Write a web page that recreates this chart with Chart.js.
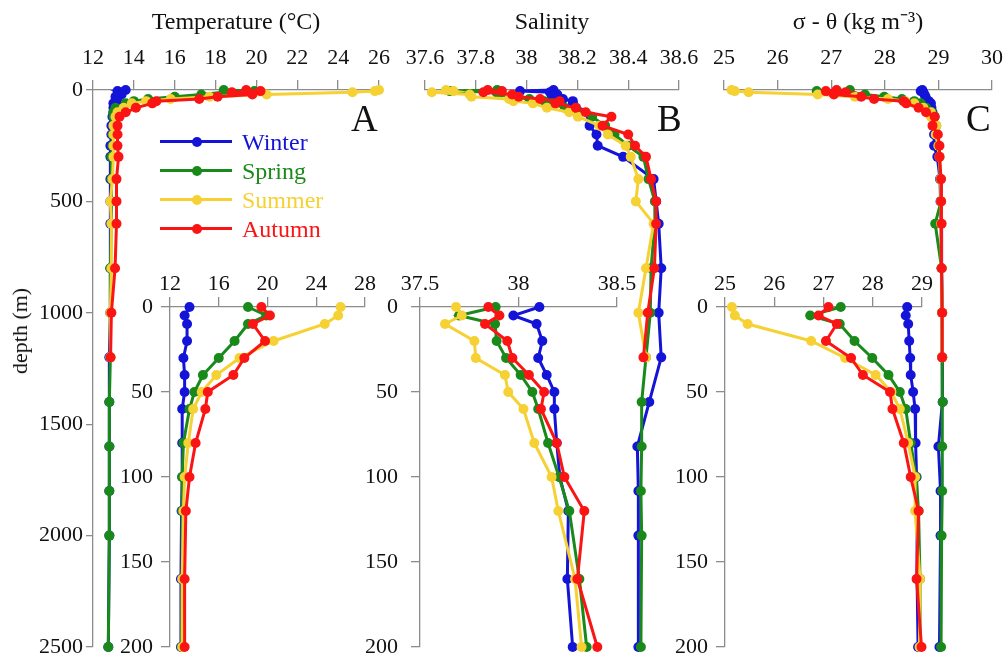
<!DOCTYPE html>
<html>
<head>
<meta charset="utf-8">
<script src="https://cdn.jsdelivr.net/npm/chart.js@4.4.0/dist/chart.umd.min.js"></script>
<style>
  body { margin: 0; background: #fff; }
  #wrap { position: relative; width: 1008px; height: 661px; overflow: hidden; font-family: "Liberation Serif", "Times New Roman", serif; color: #111; }
  #wrap canvas { position: absolute; left: 0; top: 0; }
  .tag { position: absolute; font-size: 37px; line-height: 37px; }
  .ylab { position: absolute; left: 20px; top: 331px; font-size: 22px; white-space: nowrap; transform: translate(-50%, -50%) rotate(-90deg); }
  .leg { position: absolute; left: 160px; height: 24px; }
  .leg .ln { position: absolute; left: 0; top: 10px; width: 72px; height: 3px; }
  .leg .dot { position: absolute; left: 32px; top: 6.5px; width: 10px; height: 10px; border-radius: 50%; }
  .leg span { position: absolute; left: 82px; top: 0; font-size: 24px; line-height: 24px; white-space: nowrap; }
</style>
</head>
<body>
<div id="wrap">
  <canvas id="mainA" width="1008" height="661"></canvas>
  <canvas id="mainB" width="1008" height="661"></canvas>
  <canvas id="mainC" width="1008" height="661"></canvas>
  <canvas id="insetA" width="1008" height="661"></canvas>
  <canvas id="insetB" width="1008" height="661"></canvas>
  <canvas id="insetC" width="1008" height="661"></canvas>
  <div class="ylab">depth (m)</div>
  <div class="tag" style="left:351px;top:100px">A</div>
  <div class="tag" style="left:657px;top:100px">B</div>
  <div class="tag" style="left:966px;top:100px">C</div>
  <div id="legend"></div>
</div>
<script>
const seasons = ['Winter', 'Spring', 'Summer', 'Autumn'];
const seasonColors = ['#1414d8', '#198a19', '#f6d134', '#fb1414'];

// sampling depths (m); summer and autumn casts stop at 1200 m
const depths = [0, 5, 10, 20, 30, 40, 50, 60, 80, 100, 120, 160, 200, 250, 300, 400, 500, 600, 800, 1000, 1200, 1400, 1600, 1800, 2000, 2500];

// temperature (°C)
const tempWinter = [13.6, 13.2, 13.4, 13.4, 13.1, 13.2, 13.2, 13.0, 13.0, 13.0, 12.95, 12.9, 12.9, 12.85, 12.85, 12.85, 12.85, 12.85, 12.85, 12.85, 12.8, 12.8, 12.8, 12.8, 12.8, 12.75];
const tempSpring = [18.4, 19.9, 18.4, 17.3, 16.0, 14.7, 14.0, 13.6, 13.1, 13.0, 13.0, 13.0, 12.95, 12.95, 12.9, 12.9, 12.9, 12.9, 12.85, 12.85, 12.85, 12.8, 12.8, 12.8, 12.8, 12.75];
const tempSummer = [26.0, 25.8, 24.7, 20.5, 17.7, 15.8, 14.6, 13.9, 13.5, 13.2, 13.1, 13.0, 13.0, 13.0, 13.0, 12.95, 12.85, 12.9, 12.9, 12.85, 12.85];
const tempAutumn = [19.5, 20.2, 18.8, 19.8, 18.1, 17.2, 15.1, 14.9, 14.1, 13.6, 13.3, 13.2, 13.2, 13.2, 13.25, 13.15, 13.15, 13.15, 13.08, 12.9, 12.86];

// salinity
const salWinter = [38.106, 37.974, 38.092, 38.121, 38.10, 38.143, 38.182, 38.182, 38.194, 38.21, 38.253, 38.248, 38.275, 38.28, 38.38, 38.50, 38.51, 38.52, 38.53, 38.52, 38.53, 38.483, 38.436, 38.44, 38.44, 38.44];
const salSpring = [37.884, 37.698, 37.881, 37.889, 37.937, 38.011, 38.07, 38.10, 38.15, 38.206, 38.258, 38.309, 38.346, 38.40, 38.46, 38.48, 38.505, 38.505, 38.49, 38.487, 38.47, 38.453, 38.453, 38.45, 38.453, 38.45];
const salSummer = [37.683, 37.712, 37.627, 37.776, 37.783, 37.931, 37.948, 38.025, 38.08, 38.168, 38.202, 38.287, 38.32, 38.39, 38.41, 38.44, 38.43, 38.50, 38.47, 38.44, 38.47];
const salAutumn = [37.847, 37.903, 37.83, 37.943, 37.969, 38.053, 38.13, 38.114, 38.194, 38.233, 38.334, 38.299, 38.40, 38.427, 38.47, 38.49, 38.51, 38.51, 38.503, 38.477, 38.46];

// sigma-theta (kg m-3)
const sigWinter = [28.70, 28.67, 28.72, 28.74, 28.76, 28.77, 28.82, 28.86, 28.87, 28.89, 28.90, 28.90, 28.92, 28.92, 28.98, 29.03, 29.04, 29.05, 29.06, 29.07, 29.07, 29.08, 29.0, 29.04, 29.04, 29.02];
const sigSpring = [27.35, 26.73, 27.33, 27.63, 27.99, 28.32, 28.55, 28.67, 28.77, 28.88, 28.93, 28.96, 28.96, 29.0, 29.02, 29.04, 29.05, 28.94, 29.06, 29.07, 29.07, 29.08, 29.07, 29.07, 29.06, 29.05];
const sigSummer = [25.14, 25.2, 25.46, 26.75, 27.44, 28.06, 28.38, 28.55, 28.72, 28.86, 28.86, 28.96, 28.95, 29.0, 29.02, 29.04, 29.05, 29.05, 29.06, 29.07, 29.07];
const sigAutumn = [27.10, 26.9, 27.27, 27.05, 27.56, 27.80, 28.35, 28.40, 28.63, 28.77, 28.93, 28.89, 28.99, 29.02, 29.02, 29.05, 29.05, 29.06, 29.06, 29.07, 29.07];

// tick labels
const depthTicksMain = [0, 500, 1000, 1500, 2000, 2500];
const depthTicksInset = [0, 50, 100, 150, 200];
const tempTicksMain = [12, 14, 16, 18, 20, 22, 24, 26];
const tempTicksInset = [12, 16, 20, 24, 28];
const salTicksMain = [37.6, 37.8, 38, 38.2, 38.4, 38.6];
const salTicksInset = [37.5, 38, 38.5];
const sigTicksMain = [25, 26, 27, 28, 29, 30];
const sigTicksInset = [25, 26, 27, 28, 29];

const W = 1008, H = 661;
const SERIF = '"Liberation Serif", "Times New Roman", serif';
const AXIS = '#8c8c8c';
const INK = '#111';

// box = [left, top, right, bottom] of the plot area in page pixels
function panel(id, box, xTicks, yTicks, values, o) {
  const yMax = yTicks[yTicks.length - 1];
  const n = depths.filter(d => d <= yMax).length;
  const datasets = seasons.map((name, i) => ({
    label: name,
    data: values[i].slice(0, n).map((v, k) => ({ x: v, y: depths[k] })),
    showLine: true,
    borderColor: seasonColors[i],
    backgroundColor: seasonColors[i],
    pointBackgroundColor: seasonColors[i],
    pointBorderWidth: 0,
    pointRadius: 5,
    borderWidth: 3,
    clip: false,
    order: seasons.length - 1 - i
  }));
  const xH = o.inset ? 40 : 90;
  const yW = o.yAxis ? 60 : 0;
  const tickFont = { family: SERIF, size: 22 };

  new Chart(document.getElementById(id), {
    type: 'scatter',
    data: { datasets },
    options: {
      responsive: false,
      animation: false,
      events: [],
      layout: { padding: { left: box[0] - yW, top: box[1] - xH, right: W - box[2], bottom: H - box[3] } },
      plugins: { legend: { display: false }, tooltip: { enabled: false } },
      scales: {
        x: {
          type: 'linear',
          position: 'top',
          min: xTicks[0],
          max: xTicks[xTicks.length - 1],
          afterBuildTicks: s => { s.ticks = xTicks.map(v => ({ value: v })); },
          ticks: { autoSkip: false, maxRotation: 0, color: INK, font: tickFont, padding: o.inset ? 0 : 9, callback: v => String(v) },
          grid: { drawOnChartArea: false, tickLength: 10, color: AXIS, lineWidth: 1.3 },
          border: { display: true, color: AXIS, width: 1.3 },
          title: o.title ? { display: true, text: o.title, color: INK, font: { family: SERIF, size: 24 }, padding: { top: 8, bottom: 0 } } : { display: false },
          afterFit: s => { s.height = xH; s.paddingLeft = 0; s.paddingRight = 0; }
        },
        y: {
          type: 'linear',
          position: 'left',
          display: o.yAxis,
          reverse: true,
          min: 0,
          max: yMax,
          afterBuildTicks: s => { s.ticks = yTicks.map(v => ({ value: v })); },
          ticks: { autoSkip: false, color: INK, font: tickFont, padding: o.yPad || 3, callback: v => String(v) },
          grid: { drawOnChartArea: false, tickLength: o.inset ? 9 : 7, color: AXIS, lineWidth: 1.3 },
          border: { display: true, color: AXIS, width: 1.3 },
          afterFit: s => { s.width = yW; s.paddingTop = 0; s.paddingBottom = 0; }
        }
      }
    }
  });
}

const temps = [tempWinter, tempSpring, tempSummer, tempAutumn];
const sals = [salWinter, salSpring, salSummer, salAutumn];
const sigs = [sigWinter, sigSpring, sigSummer, sigAutumn];

panel('mainA', [93, 90, 379, 647], tempTicksMain, depthTicksMain, temps, { yAxis: true, title: 'Temperature (°C)' });
panel('mainB', [425, 90, 679, 647], salTicksMain, depthTicksMain, sals, { yAxis: false, title: 'Salinity' });
panel('mainC', [724, 90, 992, 647], sigTicksMain, depthTicksMain, sigs, { yAxis: false, title: 'σ - θ (kg m⁻³)' });
panel('insetA', [170, 307, 365, 647], tempTicksInset, depthTicksInset, temps, { yAxis: true, inset: true, yPad: 8 });
panel('insetB', [420, 307, 617, 647], salTicksInset, depthTicksInset, sals, { yAxis: true, inset: true, yPad: 13 });
panel('insetC', [725, 307, 922, 647], sigTicksInset, depthTicksInset, sigs, { yAxis: true, inset: true, yPad: 8 });

// legend inside panel A
const legend = document.getElementById('legend');
seasons.forEach((name, i) => {
  const row = document.createElement('div');
  row.className = 'leg';
  row.style.top = (130 + i * 29) + 'px';
  row.innerHTML = '<div class="ln" style="background:' + seasonColors[i] + '"></div>' +
    '<div class="dot" style="background:' + seasonColors[i] + '"></div>' +
    '<span style="color:' + seasonColors[i] + '">' + name + '</span>';
  legend.appendChild(row);
});
</script>
</body>
</html>
